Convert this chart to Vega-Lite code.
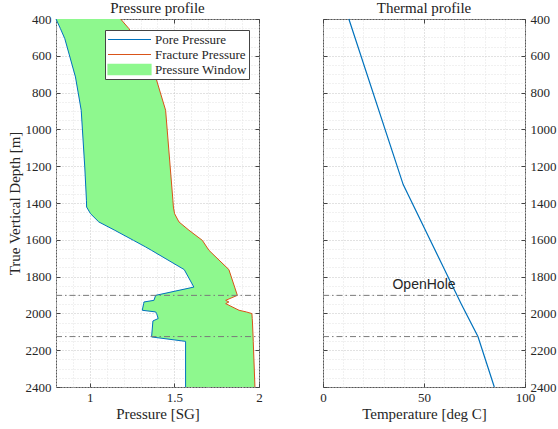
{
  "$schema": "https://vega.github.io/schema/vega-lite/v6.json",
  "padding": {"left": 6, "top": 0, "right": 0, "bottom": 0},
  "background": "white",
  "spacing": 64,
  "bounds": "flush",
  "config": {
    "view": {"stroke": "#555555", "strokeWidth": 1},
    "font": "Liberation Serif",
    "title": {"font": "Liberation Serif", "fontSize": 15, "fontWeight": "normal", "color": "#222222", "offset": -3, "baseline": "alphabetic"},
    "axis": {"labelFont": "Liberation Serif", "labelFontSize": 13, "labelColor": "#262626", "titleFont": "Liberation Serif", "titleFontSize": 15, "titleFontWeight": "normal", "titleColor": "#262626", "domain": false, "tickColor": "#444444", "labelFlush": false, "labelOverlap": false}
  },
  "datasets": {
    "press": [
      {"depth": 400, "pore": 0.800, "frac": 1.182},
      {"depth": 452, "pore": 0.826, "frac": 1.231},
      {"depth": 507, "pore": 0.852, "frac": 1.266},
      {"depth": 715, "pore": 0.915, "frac": 1.389},
      {"depth": 896, "pore": 0.949, "frac": 1.448},
      {"depth": 1204, "pore": 0.970, "frac": 1.475},
      {"depth": 1385, "pore": 0.980, "frac": 1.491},
      {"depth": 1422, "pore": 0.981, "frac": 1.494},
      {"depth": 1458, "pore": 1.004, "frac": 1.501},
      {"depth": 1503, "pore": 1.053, "frac": 1.527},
      {"depth": 1548, "pore": 1.147, "frac": 1.586},
      {"depth": 1603, "pore": 1.258, "frac": 1.665},
      {"depth": 1639, "pore": 1.330, "frac": 1.691},
      {"depth": 1657, "pore": 1.364, "frac": 1.704},
      {"depth": 1762, "pore": 1.558, "frac": 1.822},
      {"depth": 1857, "pore": 1.615, "frac": 1.856},
      {"depth": 1902, "pore": 1.389, "frac": 1.872},
      {"depth": 1929, "pore": 1.379, "frac": 1.803},
      {"depth": 1938, "pore": 1.320, "frac": 1.822},
      {"depth": 1947, "pore": 1.318, "frac": 1.803},
      {"depth": 1983, "pore": 1.310, "frac": 1.882},
      {"depth": 1992, "pore": 1.389, "frac": 1.925},
      {"depth": 2001, "pore": 1.395, "frac": 1.958},
      {"depth": 2028, "pore": 1.404, "frac": 1.960},
      {"depth": 2041, "pore": 1.373, "frac": 1.961},
      {"depth": 2128, "pore": 1.365, "frac": 1.965},
      {"depth": 2152, "pore": 1.566, "frac": 1.966},
      {"depth": 2400, "pore": 1.566, "frac": 1.976}
    ],
    "temp": [
      {"depth": 400, "temp": 12.8},
      {"depth": 1300, "temp": 39.7},
      {"depth": 1950, "temp": 68.5},
      {"depth": 2126, "temp": 76.7},
      {"depth": 2400, "temp": 84.8}
    ],
    "zones": [
      {"depth": 1902},
      {"depth": 2126}
    ],
    "notes": [
      {"label": "OpenHole", "temp": 50, "depth": 1848}
    ]
  },
  "hconcat": [
    {
      "width": 203,
      "height": 368,
      "title": "Pressure profile",
      "layer": [
        {
          "data": {"name": "press"},
          "mark": {"type": "area", "orient": "horizontal", "opacity": 1},
          "encoding": {
            "y": {
              "field": "depth", "type": "quantitative",
              "scale": {"domain": [400, 2400], "reverse": true, "nice": false, "zero": false},
              "axis": {
                "orient": "left",
                "values": [400,450,500,550,600,650,700,750,800,850,900,950,1000,1050,1100,1150,1200,1250,1300,1350,1400,1450,1500,1550,1600,1650,1700,1750,1800,1850,1900,1950,2000,2050,2100,2150,2200,2250,2300,2350,2400],
                "format": "d",
                "labelExpr": "datum.value % 200 === 0 ? datum.label : ''",
                "ticks": false, "labelPadding": 5,
                "grid": true, "gridDash": [1, 2],
                "gridColor": {"condition": {"test": "datum.value % 200 === 0", "value": "#c4c4c4"}, "value": "#e2e2e2"},
                "title": "True Vertical Depth [m]", "titlePadding": 3
              }
            },
            "x": {
              "field": "pore", "type": "quantitative",
              "scale": {"domain": [0.8, 2], "nice": false, "zero": false},
              "axis": {
                "orient": "bottom",
                "values": [0.8,0.9,1,1.1,1.2,1.3,1.4,1.5,1.6,1.7,1.8,1.9,2],
                "format": "~g",
                "labelExpr": "(datum.value === 1 || datum.value === 1.5 || datum.value === 2) ? datum.label : ''",
                "ticks": false, "labelPadding": 4,
                "grid": true, "gridDash": [1, 2],
                "gridColor": {"condition": {"test": "datum.value === 1 || datum.value === 1.5 || datum.value === 2", "value": "#c4c4c4"}, "value": "#e2e2e2"},
                "title": "Pressure [SG]", "titlePadding": 2
              }
            },
            "x2": {"field": "frac"},
            "color": {
              "datum": "Pressure Window",
              "scale": {"domain": ["Pore Pressure", "Fracture Pressure", "Pressure Window"], "range": ["#0072BD", "#D95319", "#8EF88E"]},
              "legend": {
                "orient": "none", "legendX": 49, "legendY": 11, "title": null,
                "fillColor": "white", "strokeColor": "#444444", "padding": 2,
                "labelFont": "Liberation Serif", "labelFontSize": 13, "labelColor": "#262626",
                "symbolSize": 1849, "clipHeight": 15, "rowPadding": 0, "labelOffset": 3,
                "symbolStrokeWidth": 1.2, "symbolOpacity": 1,
                "encode": {
                  "symbols": {
                    "update": {
                      "shape": {"signal": "datum.value === 'Pressure Window' ? 'M-1,-0.24H1V0.24H-1Z' : 'M-1,0H1'"},
                      "fill": {"signal": "datum.value === 'Pressure Window' ? '#8EF88E' : 'transparent'"},
                      "stroke": {"signal": "datum.value === 'Pore Pressure' ? '#0072BD' : datum.value === 'Fracture Pressure' ? '#D95319' : 'transparent'"}
                    }
                  }
                }
              }
            }
          }
        },
        {
          "data": {"name": "press"},
          "mark": {"type": "line", "strokeWidth": 1},
          "encoding": {
            "y": {"field": "depth", "type": "quantitative",
              "axis": {"orient": "left", "values": [400,600,800,1000,1200,1400,1600,1800,2000,2200,2400], "labels": false, "grid": false, "ticks": true, "tickSize": 4, "offset": -4, "title": null}},
            "x": {"field": "pore", "type": "quantitative",
              "axis": {"orient": "bottom", "values": [1, 1.5, 2], "labels": false, "grid": false, "ticks": true, "tickSize": 4, "offset": -4, "title": null}},
            "order": {"field": "depth", "type": "quantitative"},
            "color": {"datum": "Pore Pressure"}
          }
        },
        {
          "data": {"name": "press"},
          "mark": {"type": "line", "strokeWidth": 1},
          "encoding": {
            "y": {"field": "depth", "type": "quantitative",
              "axis": {"orient": "right", "values": [400,600,800,1000,1200,1400,1600,1800,2000,2200,2400], "labels": false, "grid": false, "ticks": true, "tickSize": 4, "offset": -4, "title": null}},
            "x": {"field": "frac", "type": "quantitative",
              "axis": {"orient": "top", "values": [1, 1.5, 2], "labels": false, "grid": false, "ticks": true, "tickSize": 4, "offset": -4, "title": null}},
            "order": {"field": "depth", "type": "quantitative"},
            "color": {"datum": "Fracture Pressure"}
          }
        },
        {
          "data": {"name": "zones"},
          "mark": {"type": "rule", "color": "#7a7a7a", "strokeWidth": 1, "strokeDash": [6, 3, 1.5, 3]},
          "encoding": {
            "y": {"field": "depth", "type": "quantitative", "axis": null},
            "x": {"datum": 0.8, "type": "quantitative", "axis": null},
            "x2": {"datum": 2}
          }
        }
      ],
      "resolve": {"axis": {"x": "independent", "y": "independent"}}
    },
    {
      "width": 202,
      "height": 368,
      "title": "Thermal profile",
      "layer": [
        {
          "data": {"name": "temp"},
          "mark": {"type": "line", "color": "#0072BD", "strokeWidth": 1.2},
          "encoding": {
            "y": {
              "field": "depth", "type": "quantitative",
              "scale": {"domain": [400, 2400], "reverse": true, "nice": false, "zero": false},
              "axis": {
                "orient": "right",
                "values": [400,450,500,550,600,650,700,750,800,850,900,950,1000,1050,1100,1150,1200,1250,1300,1350,1400,1450,1500,1550,1600,1650,1700,1750,1800,1850,1900,1950,2000,2050,2100,2150,2200,2250,2300,2350,2400],
                "format": "d",
                "labelExpr": "datum.value % 200 === 0 ? datum.label : ''",
                "ticks": false, "labelPadding": 5,
                "grid": true, "gridDash": [1, 2],
                "gridColor": {"condition": {"test": "datum.value % 200 === 0", "value": "#c4c4c4"}, "value": "#e2e2e2"},
                "title": null
              }
            },
            "x": {
              "field": "temp", "type": "quantitative",
              "scale": {"domain": [0, 100], "nice": false, "zero": false},
              "axis": {
                "orient": "bottom",
                "values": [0,10,20,30,40,50,60,70,80,90,100],
                "format": "d",
                "labelExpr": "datum.value % 50 === 0 ? datum.label : ''",
                "ticks": false, "labelPadding": 4,
                "grid": true, "gridDash": [1, 2],
                "gridColor": {"condition": {"test": "datum.value % 50 === 0", "value": "#c4c4c4"}, "value": "#e2e2e2"},
                "title": "Temperature [deg C]", "titlePadding": 2
              }
            },
            "order": {"field": "depth", "type": "quantitative"}
          }
        },
        {
          "data": {"name": "zones"},
          "mark": {"type": "rule", "color": "#7a7a7a", "strokeWidth": 1, "strokeDash": [6, 3, 1.5, 3]},
          "encoding": {
            "y": {"field": "depth", "type": "quantitative",
              "axis": {"orient": "right", "values": [400,600,800,1000,1200,1400,1600,1800,2000,2200,2400], "labels": false, "grid": false, "ticks": true, "tickSize": 4, "offset": -4, "title": null}},
            "x": {"datum": 0, "type": "quantitative",
              "axis": {"orient": "bottom", "values": [0, 50, 100], "labels": false, "grid": false, "ticks": true, "tickSize": 4, "offset": -4, "title": null}},
            "x2": {"datum": 100}
          }
        },
        {
          "data": {"name": "notes"},
          "mark": {"type": "text", "font": "Liberation Sans", "fontSize": 14, "color": "#262626", "baseline": "middle", "align": "center"},
          "encoding": {
            "y": {"field": "depth", "type": "quantitative",
              "axis": {"orient": "left", "values": [400,600,800,1000,1200,1400,1600,1800,2000,2200,2400], "labels": false, "grid": false, "ticks": true, "tickSize": 4, "offset": -4, "title": null}},
            "x": {"field": "temp", "type": "quantitative",
              "axis": {"orient": "top", "values": [0, 50, 100], "labels": false, "grid": false, "ticks": true, "tickSize": 4, "offset": -4, "title": null}},
            "text": {"field": "label"}
          }
        }
      ],
      "resolve": {"axis": {"x": "independent", "y": "independent"}}
    }
  ]
}
